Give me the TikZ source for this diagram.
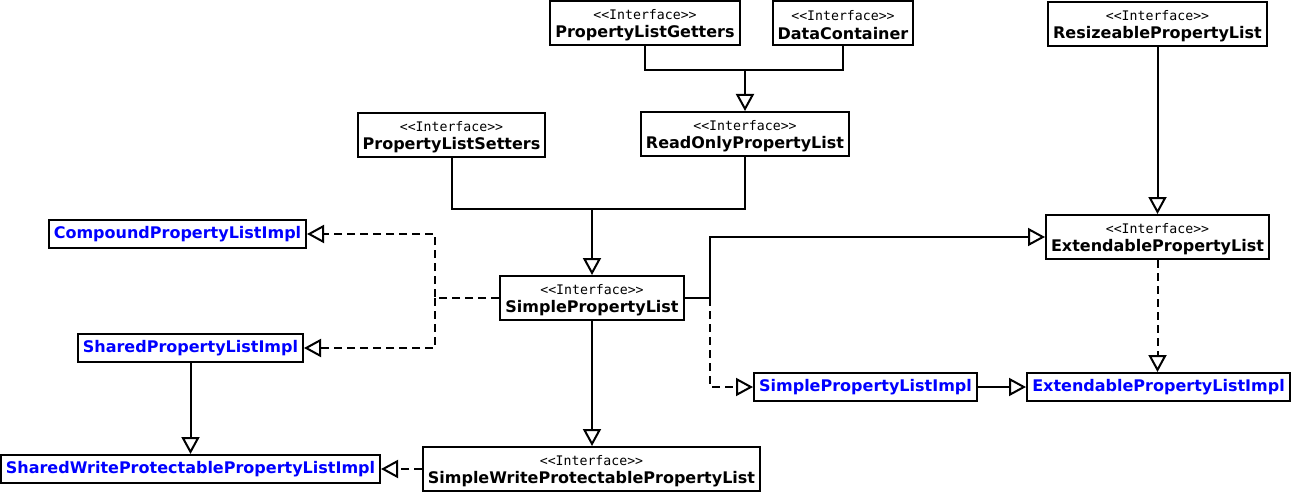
\documentclass[tikz,border=0pt]{standalone}
\usepackage{fontspec}
\setmainfont[Ligatures=TeXOff]{DejaVu Sans}
\newfontfamily\stereofont[Ligatures=TeXOff]{DejaVu Sans Mono}
\usetikzlibrary{arrows.meta}
\definecolor{implblue}{rgb}{0.000000, 0.000000, 1.000000}
\newlength{\du}
\setlength{\du}{1pt}
\tikzset{
  iface/.style={draw, line width=2\du, fill=white, align=center, inner sep=0pt,
    minimum height=44\du, font=\fontsize{16}{18.5}\selectfont\bfseries},
  implbox/.style={draw, line width=2\du, fill=white, inner sep=0pt,
    minimum height=28\du, text=implblue, font=\fontsize{16}{19}\selectfont\bfseries},
  generalize/.style={line width=2\du, -{Triangle[length=17pt,width=18pt,fill=white]}},
  realize/.style={generalize, dash pattern=on 8pt off 5pt},
}
\newcommand{\iftext}[1]{{\stereofont\mdseries\fontsize{13.2}{15}\selectfont\rule{0pt}{14pt}<<Interface>>}\\#1}

\begin{document}
\begin{tikzpicture}
\pgftransformxscale{1.000000}
\pgftransformyscale{-1.000000}
\useasboundingbox (0\du,0\du) rectangle (1291\du,492\du);
% interfaces
\node[iface, minimum width=190\du] (getters) at (645\du,23\du) {\iftext{PropertyListGetters}};
\node[iface, minimum width=140\du] (datacontainer) at (843\du,23\du) {\iftext{DataContainer}};
\node[iface, minimum width=219\du] (resizeable) at (1157.5\du,24\du) {\iftext{ResizeablePropertyList}};
\node[iface, minimum width=187\du] (setters) at (451.5\du,135\du) {\iftext{PropertyListSetters}};
\node[iface, minimum width=208\du] (readonly) at (745\du,134\du) {\iftext{ReadOnlyPropertyList}};
\node[iface, minimum width=184\du] (simple) at (592\du,298\du) {\iftext{SimplePropertyList}};
\node[iface, minimum width=223\du] (extendable) at (1157.5\du,237\du) {\iftext{ExtendablePropertyList}};
\node[iface, minimum width=337\du] (simplewp) at (591.5\du,469\du) {\iftext{SimpleWriteProtectablePropertyList}};
% implementations
\node[implbox, minimum width=257\du] (compoundimpl) at (177.5\du,234\du) {CompoundPropertyListImpl};
\node[implbox, minimum width=225\du] (sharedimpl) at (190.5\du,348\du) {SharedPropertyListImpl};
\node[implbox, minimum width=223\du] (simpleimpl) at (865.5\du,387\du) {SimplePropertyListImpl};
\node[implbox, minimum width=263\du] (extendableimpl) at (1158.5\du,387\du) {ExtendablePropertyListImpl};
\node[implbox, minimum width=379\du] (sharedwpimpl) at (190.5\du,469\du) {SharedWriteProtectablePropertyListImpl};
% junctions
\coordinate (readonly-join) at (745\du,70\du);
\coordinate (simple-join) at (592\du,209\du);
\coordinate (simple-left) at (435\du,298\du);
\coordinate (simple-right) at (710\du,298\du);
% connectors
\draw[generalize] (getters.south) |- (readonly-join) -- (readonly.north);
\draw[line width=2\du] (datacontainer.south) |- (readonly-join);
\draw[generalize] (setters.south) |- (simple-join) -- (simple.north);
\draw[line width=2\du] (readonly.south) |- (simple-join);
\draw[generalize] (resizeable.south) -- (resizeable.south |- extendable.north);
\draw[generalize] (simple.east) -- (simple-right) |- (extendable.west);
\draw[realize] (simple-right) |- (simpleimpl.west);
\draw[generalize] (simpleimpl.east) -- (extendableimpl.west);
\draw[realize] (extendable.south) -- (extendable.south |- extendableimpl.north);
\draw[realize] (simple.west) -- (simple-left) |- (compoundimpl.east);
\draw[realize] (simple-left) |- (sharedimpl.east);
\draw[generalize] (simple.south) -- (simple.south |- simplewp.north);
\draw[generalize] (sharedimpl.south) -- (sharedwpimpl.north);
\draw[realize] (simplewp.west) -- (sharedwpimpl.east);
\end{tikzpicture}
\end{document}
